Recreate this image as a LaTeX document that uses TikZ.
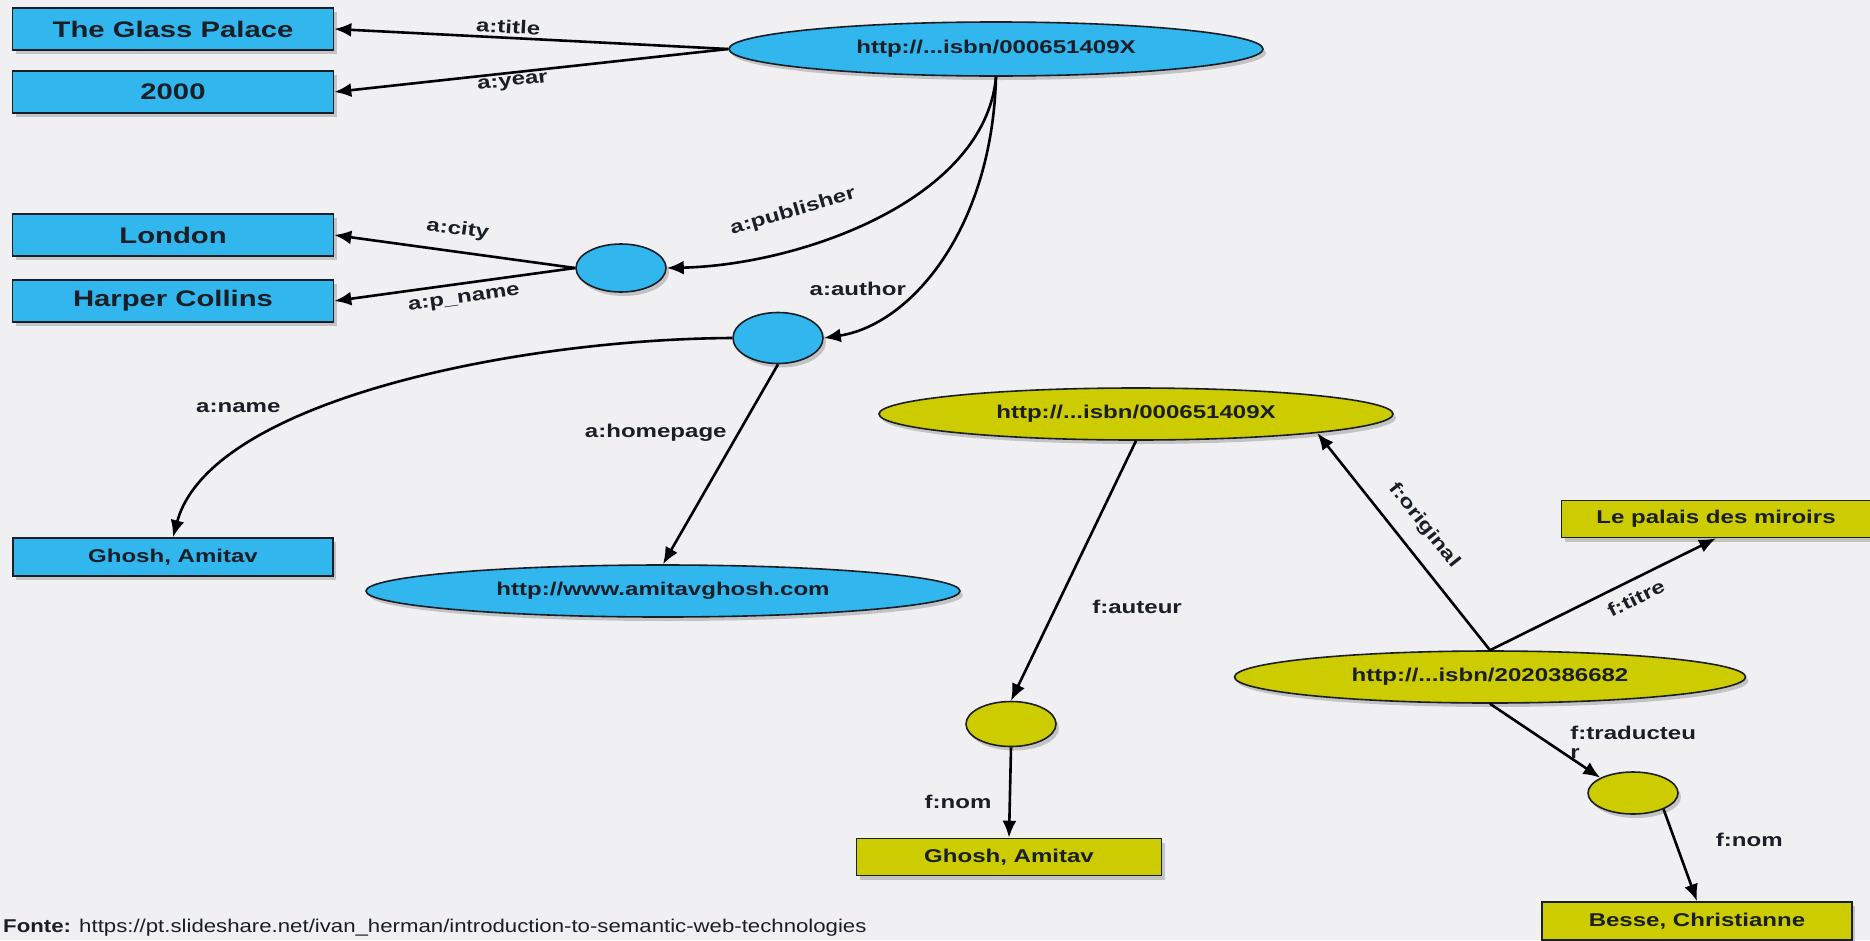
\documentclass[tikz,border=0pt]{standalone}
\usepackage{fontspec}
\setmainfont{Liberation Sans}
\newfontfamily\slidefont[FakeStretch=1.3]{Liberation Sans}
\newfontfamily\notefont[FakeStretch=1.2]{Liberation Sans}
\usetikzlibrary{shapes.geometric,arrows.meta,shadows}

\definecolor{paper}{RGB}{240,240,243}
\definecolor{rdfblue}{RGB}{50,182,238}
\definecolor{rdfyellow}{RGB}{204,204,0}
\definecolor{ink}{RGB}{26,30,38}

\begin{document}
\begin{tikzpicture}[x=1pt,y=1pt]
        \tikzstyle{every node}=[text=ink, font=\slidefont\bfseries\fontsize{18.5}{19}\selectfont]
        \tikzstyle{castshadow}=[drop shadow={opacity=.4, shadow xshift=3pt, shadow yshift=-4pt}]
        \tikzstyle{literal}=[rectangle, draw=ink, line width=1.6pt, inner sep=0pt, minimum width=310pt, minimum height=38pt, castshadow]
        \tikzstyle{bigliteral}=[minimum width=321pt, minimum height=42pt, font=\slidefont\bfseries\fontsize{22.5}{24}\selectfont]
        \tikzstyle{resource}=[ellipse, draw=ink, line width=1.6pt, inner sep=0pt, minimum height=52pt, castshadow]
        \tikzstyle{bnode}=[resource, minimum width=90pt, minimum height=48pt]
        \tikzstyle{enfill}=[fill=rdfblue]
        \tikzstyle{frfill}=[fill=rdfyellow]
        \tikzstyle{property}=[draw=black, line width=2.6pt, -{Latex[length=17pt, width=14pt]}]
        \tikzstyle{plabel}=[inner sep=2pt]

        \fill[paper] (0,0) rectangle (1870,-940);
        \useasboundingbox (0,0) rectangle (1870,-940);

        % english graph
        \node[resource, enfill, minimum width=534pt, minimum height=54pt] (book) at (996,-49) {http://...isbn/000651409X};
        \node[literal, bigliteral, enfill] (title) at (173,-29) {The Glass Palace};
        \node[literal, bigliteral, enfill] (year) at (173,-92) {2000};
        \node[literal, bigliteral, enfill] (city) at (173,-235) {London};
        \node[literal, bigliteral, enfill] (pname) at (173,-301) {Harper Collins};
        \node[bnode, enfill] (pub) at (621,-268) {};
        \node[bnode, enfill, minimum height=51pt] (auth) at (778,-338) {};
        \node[literal, enfill, minimum width=320pt] (aname) at (173,-557) {Ghosh, Amitav};
        \node[resource, enfill, minimum width=594pt] (home) at (663,-591) {http://www.amitavghosh.com};

        % french graph
        \node[resource, frfill, minimum width=514pt] (livre) at (1136,-414) {http://...isbn/000651409X};
        \node[bnode, frfill, minimum height=45pt] (auteur) at (1011,-724) {};
        \node[literal, frfill, minimum width=305pt, minimum height=37pt] (nom) at (1009,-857) {Ghosh, Amitav};
        \node[resource, frfill, minimum width=511pt] (trad) at (1490,-677) {http://...isbn/2020386682};
        \node[literal, frfill, minimum width=309pt, minimum height=37pt] (titre) at (1716,-519) {Le palais des miroirs};
        \node[bnode, frfill, minimum height=42pt] (traducteur) at (1633,-793) {};
        \node[literal, frfill] (besse) at (1697,-921) {Besse, Christianne};

        \draw[property] (book.west) -- (title.east) node[plabel, pos=.56, above=1pt, sloped] {a:title};
        \draw[property] (book.west) -- (year.east) node[plabel, pos=.55, below=0pt, sloped] {a:year};
        \draw[property] (book.south) .. controls (985,-200) and (800,-265) .. (pub.east) node[plabel, pos=.68, above=24pt, sloped] {a:publisher};
        \draw[property] (book.south) .. controls (992,-230) and (910,-325) .. (auth.east) node[plabel, pos=.62, left=7pt] {a:author};
        \draw[property] (pub.west) -- (city.east) node[plabel, pos=.5, above=10pt, sloped] {a:city};
        \draw[property] (pub.west) -- (pname.east) node[plabel, pos=.47, below=6pt, sloped] {a:p\_name};
        \draw[property] (auth.west) .. controls (520,-339) and (210,-400) .. (aname.north) node[plabel, pos=.6, left=41pt] {a:name};
        \draw[property] (auth.south) -- (home.north) node[plabel, pos=.34, left=9pt] {a:homepage};

        \draw[property] (livre.south) -- (auteur.north) node[plabel, pos=.64, right=33pt] {f:auteur};
        \draw[property] (auteur.south) -- (nom.north) node[plabel, pos=.6, left=15pt] {f:nom};
        \draw[property] (trad.north) -- (livre.-6) node[plabel, pos=.5, above=14pt, sloped] {f:original};
        \draw[property] (trad.north) -- (titre.south) node[plabel, pos=.61, below=8pt, sloped] {f:titre};
        \draw[property] (trad.south) -- (traducteur.155) node[plabel, pos=.3, anchor=north west, xshift=44pt, yshift=3pt, align=left] {f:traducteu\\r};
        \draw[property] (traducteur.-28) -- (besse.north) node[plabel, pos=.33, right=38pt] {f:nom};

        \node[anchor=base west, inner sep=0pt, font=\notefont\fontsize{18.5}{20}\selectfont] (fonte) at (3,-932) {\textbf{Fonte:} https://pt.slideshare.net/ivan\_herman/introduction-to-semantic-web-technologies};
\end{tikzpicture}
\end{document}
